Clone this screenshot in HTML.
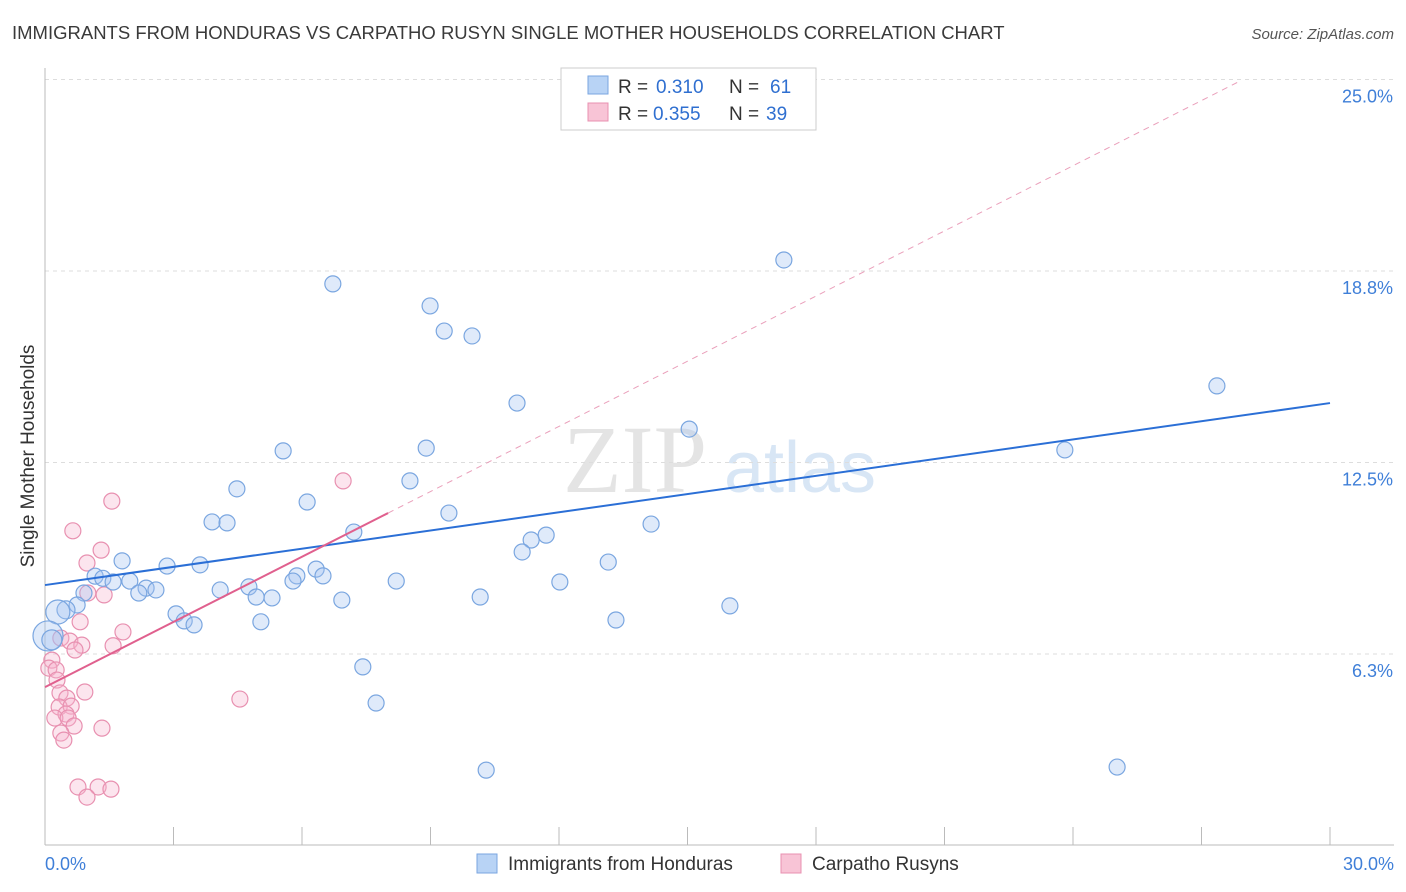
<!DOCTYPE html>
<html><head><meta charset="utf-8">
<style>
body{margin:0;background:#fff;font-family:"Liberation Sans",sans-serif;}
svg{display:block}
</style></head>
<body>
<svg id="chart" width="1406" height="892">
<text x="12" y="39" font-size="18.5" fill="#3a3a3a">IMMIGRANTS FROM HONDURAS VS CARPATHO RUSYN SINGLE MOTHER HOUSEHOLDS CORRELATION CHART</text>
<text x="1394" y="39" font-size="15" fill="#555" text-anchor="end" font-style="italic">Source: ZipAtlas.com</text>
<text transform="translate(34,456) rotate(-90)" font-size="19" fill="#333" text-anchor="middle">Single Mother Households</text>
<g>
<text x="635" y="492" font-size="96" fill="#e4e4e4" font-family="Liberation Serif" text-anchor="middle">ZIP</text>
<text x="800" y="492" font-size="72" fill="#d8e6f5" text-anchor="middle">atlas</text>
</g>
<g id="grid"></g>
<g id="marks"></g>
<g>
<rect x="561" y="68" width="255" height="62" fill="#fff" stroke="#ccc"/>
<rect x="588" y="76" width="20" height="18" fill="#b8d3f5" stroke="#7aa6e0"/>
<rect x="588" y="103" width="20" height="18" fill="#f8c4d6" stroke="#e890b0"/>
<text x="618" y="93" font-size="19" fill="#333">R =</text>
<text x="656" y="93" font-size="19" fill="#2f6fd0">0.310</text>
<text x="729" y="93" font-size="19" fill="#333">N =</text>
<text x="770" y="93" font-size="19" fill="#2f6fd0">61</text>
<text x="618" y="120" font-size="19" fill="#333">R =</text>
<text x="653" y="120" font-size="19" fill="#2f6fd0">0.355</text>
<text x="729" y="120" font-size="19" fill="#333">N =</text>
<text x="766" y="120" font-size="19" fill="#2f6fd0">39</text>
</g>
<g>
<rect x="477" y="854" width="20" height="19" fill="#b8d3f5" stroke="#7aa6e0"/>
<text x="508" y="870" font-size="19" fill="#333">Immigrants from Honduras</text>
<rect x="781" y="854" width="20" height="19" fill="#f8c4d6" stroke="#e890b0"/>
<text x="812" y="870" font-size="19" fill="#333">Carpatho Rusyns</text>
</g>
</svg>
<script>
const yTicks=[6.3,12.5,18.8,25.0];
const yTickVals=[6.25,12.5,18.75,25];
const xTickLabels=["0.0%","30.0%"];
const blueX=[6.72,8.99,9.32,9.97,17.25,27.36,11.02,15.04,5.56,8.90,23.81,4.48,8.52,6.12,9.43,3.90,4.25,7.21,14.15,11.70,11.35,11.14,1.80,2.85,3.62,13.15,1.17,1.35,1.98,1.59,6.33,5.88,6.49,5.79,8.20,12.02,2.36,2.59,2.19,4.09,4.76,4.93,5.30,6.93,10.16,0.91,0.75,0.49,0.30,3.06,3.25,3.48,5.04,13.33,15.99,0.07,0.16,7.42,7.73,10.30,25.03];
const blueY=[18.33,17.61,16.79,16.63,19.11,15.0,14.44,13.59,12.88,12.97,12.91,11.64,11.90,11.21,10.85,10.56,10.53,10.23,10.49,10.13,9.97,9.58,9.29,9.12,9.16,9.25,8.79,8.72,8.63,8.60,9.02,8.80,8.80,8.63,8.63,8.60,8.40,8.34,8.24,8.34,8.44,8.11,8.08,8.01,8.11,8.24,7.85,7.69,7.62,7.56,7.33,7.20,7.30,7.36,7.82,6.84,6.71,5.83,4.65,2.46,2.56];
const blueR=[8,8,8,8,8,8,8,8,8,8,8,8,8,8,8,8,8,8,8,8,8,8,8,8,8,8,8,8,8,8,8,8,8,8,8,8,8,8,8,8,8,8,8,8,8,8,8,9,12,8,8,8,8,8,8,15,10,8,8,8,8];
const pinkX=[1.56,0.65,1.31,0.98,6.96,1.00,1.38,0.82,1.82,1.59,0.37,0.58,0.86,0.70,0.16,0.09,0.26,0.28,0.93,0.35,0.51,0.33,0.61,0.49,0.23,0.54,4.55,0.68,1.33,0.37,0.44,0.77,1.24,1.54,0.98];
const pinkY=[11.24,10.27,9.64,9.22,11.90,8.24,8.18,7.30,6.97,6.52,6.77,6.67,6.54,6.38,6.05,5.79,5.73,5.40,5.01,4.98,4.81,4.52,4.55,4.29,4.16,4.16,4.78,3.90,3.83,3.67,3.44,1.91,1.91,1.84,1.58];
const blueTrend=[[0,8.50],[30,14.44]];
const pinkTrend=[[0,5.17],[8.01,10.85]];
const pinkDash=[[8.01,10.85],[27.9,24.95]];
const NS="http://www.w3.org/2000/svg";
const xs=v=>45+v*42.833;
const ys=v=>845.5-v*30.64;
function mk(tag,attrs,parent){const e=document.createElementNS(NS,tag);for(const k in attrs)e.setAttribute(k,attrs[k]);parent.appendChild(e);return e;}
const grid=document.getElementById('grid');
const marks=document.getElementById('marks');
yTickVals.forEach((v,i)=>{
 const l=mk('line',{x1:45,x2:1394,y1:ys(v),y2:ys(v),stroke:'#ddd','stroke-dasharray':'4,4'},grid);
 
 
 const t=mk('text',{x:1393,y:ys(v)+23,'font-size':18,fill:'#3f7fd8','text-anchor':'end'},grid);
 t.textContent=yTicks[i].toFixed(1)+'%';
 
 
});
const ax=mk('line',{x1:45,x2:45,y1:68,y2:845,stroke:'#bbb'},grid);


const bx=mk('line',{x1:45,x2:1394,y1:845,y2:845,stroke:'#bbb'},grid);


for(let i=0;i<=10;i++){
 const t=mk('line',{x1:xs(i*3),x2:xs(i*3),y1:827,y2:845,stroke:'#bbb'},grid);
 
 
}
[[0,'start',45],[30,'end',1394]].forEach((d,i)=>{
 const t=mk('text',{x:d[2],y:870,'font-size':18,fill:'#3f7fd8','text-anchor':d[1]},grid);
 t.textContent=xTickLabels[i];
 
 
});
pinkX.forEach((x,i)=>{
 const c=mk('circle',{cx:xs(x),cy:ys(pinkY[i]),r:8,fill:'rgba(246,180,205,0.35)',stroke:'#e890b0','stroke-width':1.2},marks);
 
 
});
blueX.forEach((x,i)=>{
 const c=mk('circle',{cx:xs(x),cy:ys(blueY[i]),r:blueR[i],fill:'rgba(164,196,240,0.35)',stroke:'#7aa6e0','stroke-width':1.2},marks);
 
 
});
const bl=mk('line',{x1:xs(blueTrend[0][0]),y1:ys(blueTrend[0][1]),x2:xs(blueTrend[1][0]),y2:ys(blueTrend[1][1]),stroke:'#2b6fd6','stroke-width':2},marks);


const pl=mk('line',{x1:xs(pinkTrend[0][0]),y1:ys(pinkTrend[0][1]),x2:xs(pinkTrend[1][0]),y2:ys(pinkTrend[1][1]),stroke:'#e0608e','stroke-width':2},marks);


const pd=mk('line',{x1:xs(pinkDash[0][0]),y1:ys(pinkDash[0][1]),x2:xs(pinkDash[1][0]),y2:ys(pinkDash[1][1]),stroke:'#eaa0bb','stroke-width':1,'stroke-dasharray':'6,5'},marks);


</script>
</body></html>
